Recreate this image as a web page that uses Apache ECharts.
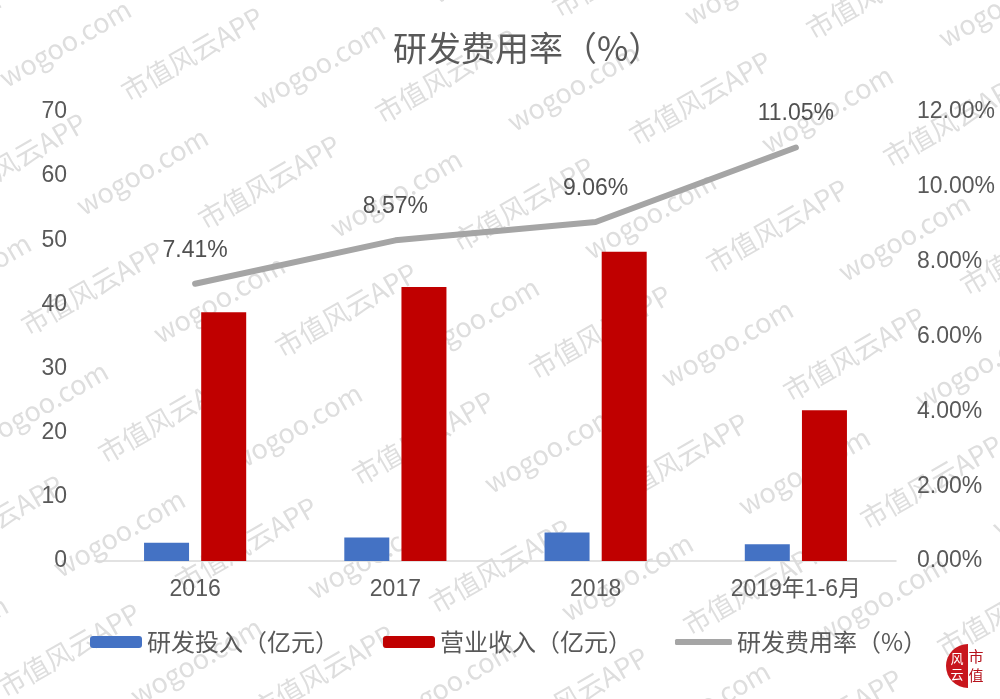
<!DOCTYPE html>
<html><head><meta charset="utf-8">
<script src="https://cdn.jsdelivr.net/npm/echarts@6/dist/echarts.min.js"></script>
<style>html,body{margin:0;padding:0;background:#fff}#c{width:1000px;height:699px}</style>
</head><body><div id="c"></div>
<script>
const categories = ['2016', '2017', '2018', '2019年1-6月'];
const rdInvest = [2.85, 3.65, 4.45, 2.6];
const revenue = [38.8, 42.7, 48.2, 23.5];
const rdRate = [7.41, 8.57, 9.06, 11.05];
const seriesNames = ['研发投入（亿元）', '营业收入（亿元）', '研发费用率（%）'];
const titleText = '研发费用率（%）';
const leftAxis = { min: 0, max: 70, interval: 10 };
const rightAxis = { min: 0, max: 12, interval: 2 };
const watermarkTexts = ['市值风云APP', 'wogoo.com'];

const FONT = "'Liberation Sans','Noto Sans CJK SC',sans-serif";
const CJK = "'Noto Sans CJK SC','Liberation Sans',sans-serif";

// decorative watermark tiles
const wm = [];
for (let i = -5; i <= 5; i++) {
  for (let j = -5; j <= 6; j++) {
    const bx = 600 + i * 254 + j * 77, by = 332 + i * 22 + j * 128;
    [[0, 0, 0], [127, 11, 1]].forEach(function (o) {
      const x = bx + o[0], y = by + o[1];
      if (x > -150 && x < 1150 && y > -100 && y < 800) {
        wm.push({
          type: 'text', x: x, y: y, rotation: Math.PI / 6, silent: true, z: -10,
          style: { text: watermarkTexts[o[2]], x: 0, y: 0, align: 'center', verticalAlign: 'middle',
            fill: '#dedede', fontSize: 27, fontFamily: CJK }
        });
      }
    });
  }
}
// corner logo
wm.push({ type: 'sector', silent: true, z: 10,
  shape: { cx: 968, cy: 666, r0: 0, r: 22, startAngle: Math.PI / 2, endAngle: Math.PI * 1.5 },
  style: { fill: '#c8161d' } });
wm.push({ type: 'text', silent: true, z: 11, x: 957, y: 666,
  style: { text: '风\n云', align: 'center', verticalAlign: 'middle', fill: '#fff', fontSize: 13, lineHeight: 16, fontFamily: CJK } });
wm.push({ type: 'text', silent: true, z: 11, x: 976, y: 666,
  style: { text: '市\n值', align: 'center', verticalAlign: 'middle', fill: '#b5121b', fontSize: 15, lineHeight: 19, fontFamily: CJK } });

const chart = echarts.init(document.getElementById('c'));
chart.setOption({
  backgroundColor: '#fff',
  animation: false,
  graphic: wm,
  title: {
    text: titleText, left: 393, top: 31, padding: 0,
    textStyle: { fontSize: 34, fontWeight: 'normal', color: '#595959', fontFamily: CJK }
  },
  grid: { left: 95, right: 104, top: 112, bottom: 138, containLabel: false },
  legend: [
    {
      data: [seriesNames[0], seriesNames[1]],
      left: 90, top: 630, padding: 0, itemWidth: 52, itemHeight: 12, itemGap: 44,
      textStyle: { fontSize: 24, color: '#595959', fontFamily: CJK }
    },
    {
      data: [seriesNames[2]], icon: 'roundRect',
      left: 675, top: 630, padding: 0, itemWidth: 57, itemHeight: 6,
      textStyle: { fontSize: 24, color: '#595959', fontFamily: CJK }
    }
  ],
  xAxis: {
    type: 'category', data: categories,
    axisLine: { lineStyle: { color: '#d9d9d9', width: 1.5 } },
    axisTick: { show: false },
    axisLabel: { fontSize: 23, color: '#595959', margin: 17, fontFamily: FONT }
  },
  yAxis: [
    { type: 'value', min: leftAxis.min, max: leftAxis.max, interval: leftAxis.interval,
      splitLine: { show: false }, axisLine: { show: false }, axisTick: { show: false },
      axisLabel: { fontSize: 23, color: '#595959', margin: 28, fontFamily: FONT } },
    { type: 'value', position: 'right', min: rightAxis.min, max: rightAxis.max, interval: rightAxis.interval,
      splitLine: { show: false }, axisLine: { show: false }, axisTick: { show: false },
      axisLabel: { fontSize: 23, color: '#595959', margin: 21, fontFamily: FONT,
        formatter: function (v) { return v.toFixed(2) + '%'; } } }
  ],
  series: [
    { name: seriesNames[0], type: 'bar', data: rdInvest, barWidth: 45, barGap: '27%',
      itemStyle: { color: '#4472c4' } },
    { name: seriesNames[1], type: 'bar', data: revenue, barWidth: 45,
      itemStyle: { color: '#c00000' } },
    { name: seriesNames[2], type: 'line', yAxisIndex: 1, data: rdRate,
      symbol: 'circle', symbolSize: 0.01, showSymbol: true,
      lineStyle: { color: '#a5a5a5', width: 6, cap: 'round', join: 'round' },
      itemStyle: { color: '#a5a5a5' },
      label: { show: true, position: 'top', distance: 22, fontSize: 23, color: '#505050', fontFamily: FONT,
        formatter: function (p) { return p.value.toFixed(2) + '%'; } } }
  ]
});
</script>
</body></html>
